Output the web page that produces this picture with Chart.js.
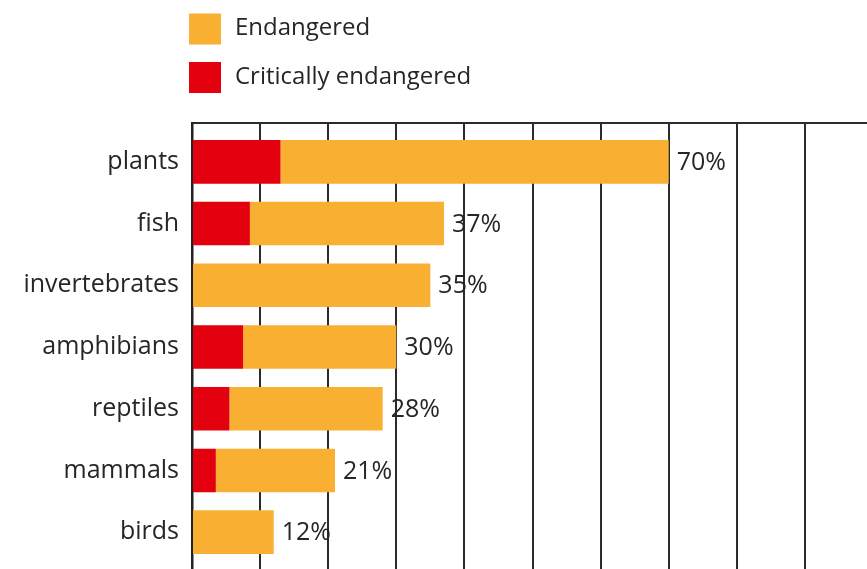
<!DOCTYPE html>
<html>
<head>
<meta charset="utf-8">
<script src="https://cdn.jsdelivr.net/npm/chart.js@4/dist/chart.umd.min.js"></script>
<style>
  html, body { margin:0; padding:0; background:#fff; }
  .frame { position:relative; width:867px; height:569px; overflow:hidden; }
  .frame canvas { position:absolute; left:0; top:0; }
</style>
</head>
<body>
<div class="frame">
  <canvas id="threatChart" width="900" height="600"></canvas>
</div>
<script>
// ---- Data ----
const groups   = ['plants', 'fish', 'invertebrates', 'amphibians', 'reptiles', 'mammals', 'birds'];
const totals   = [70, 37, 35, 30, 28, 21, 12];          // % threatened overall
const critical = [13, 8.5, 0, 7.5, 5.5, 3.5, 0];         // % critically endangered
const seriesNames = ['Critically endangered', 'Endangered'];

const ORANGE = '#f9b032';
const RED = '#e3000f';
const INK = '#262626';
const FONT = '"Open Sans", sans-serif';

// rows on a numeric index axis so the top rule sits a bit above the first bar
const critPoints = groups.map((g, i) => ({ x: critical[i], y: i }));
const endPoints  = groups.map((g, i) => ({ x: totals[i] - critical[i], y: i }));

// ---- Plugins ----
const stackedLegend = {
  id: 'stackedLegend',
  afterDraw(chart) {
    const { ctx } = chart;
    const ds = [...chart.data.datasets].reverse();
    ctx.save();
    ctx.font = '24px ' + FONT;
    ctx.textBaseline = 'middle';
    ds.forEach((d, i) => {
      const y = 13.5 + i * 48.5;
      ctx.fillStyle = d.backgroundColor;
      ctx.fillRect(189, y, 32, 31);
      ctx.fillStyle = INK;
      ctx.fillText(d.label, 235, y + 15);
    });
    ctx.restore();
  }
};

const totalLabels = {
  id: 'totalLabels',
  afterDatasetsDraw(chart) {
    const { ctx } = chart;
    const meta = chart.getDatasetMeta(chart.data.datasets.length - 1);
    ctx.save();
    ctx.font = '25px ' + FONT;
    ctx.fillStyle = INK;
    ctx.textBaseline = 'middle';
    meta.data.forEach((bar, i) => {
      ctx.fillText(totals[i] + '%', bar.x + 8, bar.y + 1);
    });
    ctx.restore();
  }
};

// ---- Chart ----
new Chart(document.getElementById('threatChart'), {
  type: 'bar',
  data: {
    datasets: [
      { label: seriesNames[0], data: critPoints, backgroundColor: RED },
      { label: seriesNames[1], data: endPoints, backgroundColor: ORANGE }
    ]
  },
  options: {
    indexAxis: 'y',
    responsive: false,
    animation: false,
    barPercentage: 1,
    categoryPercentage: 0.705,
    layout: { padding: { top: 123, right: 27, bottom: 29, left: 0 } },
    plugins: { legend: { display: false }, tooltip: { enabled: false } },
    scales: {
      x: {
        position: 'top',
        stacked: true,
        min: 0, max: 100,
        ticks: { display: false, stepSize: 10 },
        grid: { color: '#2b2b2b', lineWidth: 2, drawTicks: false },
        border: { display: true, color: '#2b2b2b', width: 2 }
      },
      y: {
        type: 'linear',
        stacked: true,
        reverse: true,
        offset: false,
        min: -0.63, max: 6.63,
        afterFit(scale) { scale.width = 192; },
        afterBuildTicks(scale) { scale.ticks = groups.map((g, i) => ({ value: i })); },
        ticks: {
          padding: 13,
          color: INK,
          font: { family: FONT, size: 25 },
          callback: (v) => groups[v]
        },
        grid: { display: false, drawTicks: false, offset: false },
        border: { display: true, color: '#222', width: 2.5 }
      }
    }
  },
  plugins: [stackedLegend, totalLabels]
});
</script>
</body>
</html>
